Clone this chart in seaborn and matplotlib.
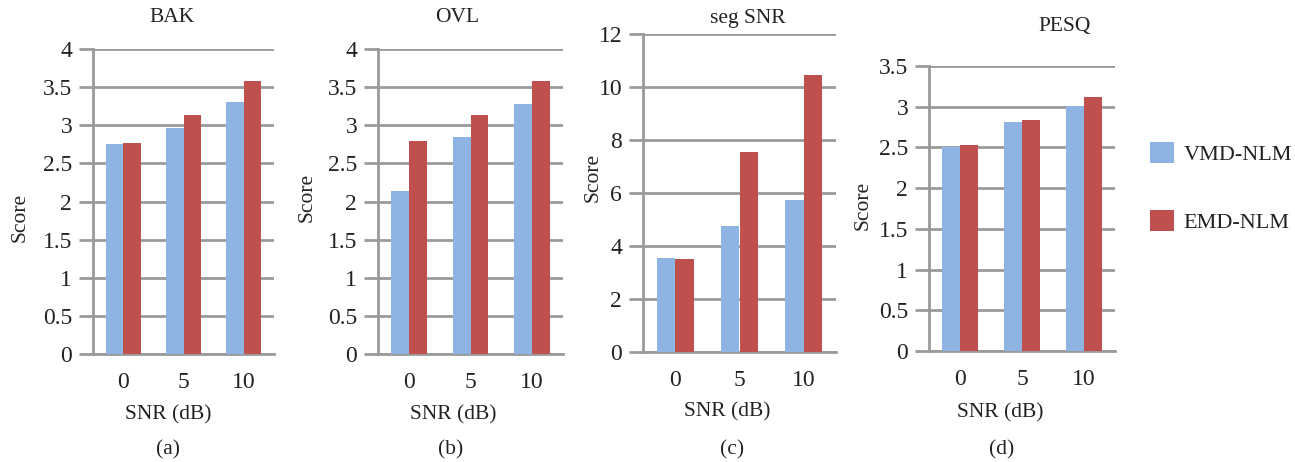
import matplotlib
matplotlib.use("Agg")
import matplotlib.pyplot as plt
import seaborn as sns
import pandas as pd
from matplotlib.patches import Patch

snr_levels = ["0", "5", "10"]
methods = ["VMD-NLM", "EMD-NLM"]

bak_vmd = [2.76, 2.96, 3.30]
bak_emd = [2.77, 3.13, 3.58]
ovl_vmd = [2.14, 2.85, 3.28]
ovl_emd = [2.79, 3.13, 3.58]
seg_vmd = [3.53, 4.77, 5.75]
seg_emd = [3.51, 7.53, 10.44]
pesq_vmd = [2.50, 2.81, 3.01]
pesq_emd = [2.53, 2.84, 3.12]

titles = ["BAK", "OVL", "seg SNR", "PESQ"]
captions = ["(a)", "(b)", "(c)", "(d)"]
y_max = [4, 4, 12, 3.5]
y_step = [0.5, 0.5, 2, 0.5]
tick_labels = [
    ["0", "0.5", "1", "1.5", "2", "2.5", "3", "3.5", "4"],
    ["0", "0.5", "1", "1.5", "2", "2.5", "3", "3.5", "4"],
    ["0", "2", "4", "6", "8", "10", "12"],
    ["0", "0.5", "1", "1.5", "2", "2.5", "3", "3.5"],
]
series = [(bak_vmd, bak_emd), (ovl_vmd, ovl_emd), (seg_vmd, seg_emd), (pesq_vmd, pesq_emd)]

sns.set_theme(style="white")
plt.rcParams["font.family"] = ["Liberation Serif", "DejaVu Serif"]

W, H = 1295, 462
fig = plt.figure(figsize=(W / 100, H / 100), dpi=100)

# axes boxes in pixels: left, right, top, bottom
boxes = [(93, 274, 49, 354), (378, 563, 49, 354), (643, 836, 34, 352), (929, 1115, 66, 351)]
title_pos = [(172, 18), (457, 18), (748, 18), (1065, 27)]
xlabel_pos = [(168, 415), (453, 415), (727, 412), (1000, 413)]
cap_pos = [(168, 450), (451, 450), (732, 450), (1002, 450)]
ylabel_pos = [(20, 217), (307, 197), (593, 177), (863, 205)]

palette = {"VMD-NLM": "#8DB4E2", "EMD-NLM": "#C0504D"}
grid_c = "#9A9A9A"
txt_c = "#222222"

for i in range(4):
    l, r, t, b = boxes[i]
    ax = fig.add_axes([l / W, 1 - b / H, (r - l) / W, (b - t) / H])
    vmd, emd = series[i]
    df = pd.DataFrame({
        "SNR": snr_levels * 2,
        "Method": [methods[0]] * 3 + [methods[1]] * 3,
        "Score": list(vmd) + list(emd),
    })
    sns.barplot(data=df, x="SNR", y="Score", hue="Method", order=snr_levels,
                hue_order=methods, palette=palette, width=0.58, ax=ax,
                legend=False, saturation=1, edgecolor="none", zorder=3)
    ax.set_xlim(-0.5, 2.5)
    ax.set_ylim(0, y_max[i])
    n = len(tick_labels[i])
    ax.set_yticks([k * y_step[i] for k in range(n)])
    ax.set_yticklabels(tick_labels[i], fontsize=17, color=txt_c)
    ax.set_xticklabels(snr_levels, fontsize=17, color=txt_c)
    ax.tick_params(axis="y", length=10, width=2, color=grid_c, pad=5, direction="out", left=True)
    ax.tick_params(axis="x", length=0, pad=13)
    ax.yaxis.grid(True, color=grid_c, linewidth=2, zorder=0)
    ax.set_axisbelow(True)
    for s in ["top", "right"]:
        ax.spines[s].set_visible(False)
    ax.spines["left"].set_color(grid_c)
    ax.spines["left"].set_linewidth(2)
    ax.spines["bottom"].set_color(grid_c)
    ax.spines["bottom"].set_linewidth(2)
    ax.set_xlabel("")
    ax.set_ylabel("")
    fig.text(title_pos[i][0] / W, 1 - title_pos[i][1] / H, titles[i], ha="center", va="center",
             fontsize=15.5, color=txt_c)
    fig.text(xlabel_pos[i][0] / W, 1 - xlabel_pos[i][1] / H, "SNR (dB)", ha="center", va="center",
             fontsize=15.5, color=txt_c)
    fig.text(cap_pos[i][0] / W, 1 - cap_pos[i][1] / H, captions[i], ha="center", va="center",
             fontsize=15.5, color=txt_c)
    fig.text(ylabel_pos[i][0] / W, 1 - ylabel_pos[i][1] / H, "Score", ha="center", va="center",
             fontsize=15.5, rotation=90, color=txt_c)

handles = [Patch(facecolor=palette[m], edgecolor="none") for m in methods]
fig.legend(handles, methods, loc="upper left", bbox_to_anchor=(1150 / W, 1 - 142 / H),
           frameon=False, fontsize=16, handlelength=1.1, handleheight=1.1,
           labelspacing=2.0, handletextpad=0.4, borderpad=0, borderaxespad=0,
           labelcolor=txt_c)

fig.savefig("out.png", dpi=100)
